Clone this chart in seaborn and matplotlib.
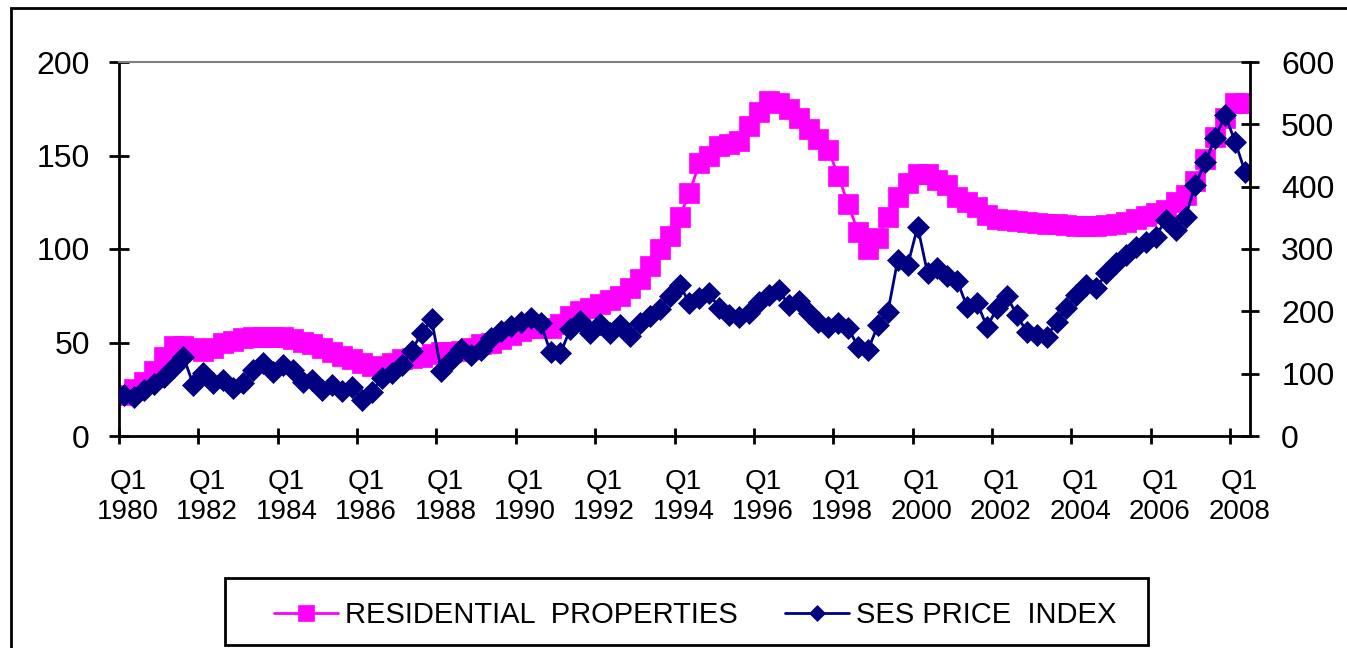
import matplotlib.pyplot as plt
import matplotlib.patches as patches
import seaborn as sns
import pandas as pd

sns.set_theme(style="white")
plt.rcParams['font.family'] = ['Liberation Sans', 'DejaVu Sans']

# Trimestres desde Q1 1980 hasta Q2 2008
trimestres = [f"Q{q} {a}" for a in range(1980, 2009) for q in range(1, 5)][:114]

# Índice de propiedades residenciales (eje izquierdo)
residencial = [
    22, 25, 29, 35, 42, 48, 48, 47,
    45.5, 47, 49.5, 51, 52.5, 53, 53, 53,
    53, 52, 50.5, 49, 47, 45, 43, 41,
    39, 37.5, 36.5, 39, 41, 41.5, 42, 44,
    45, 45, 45.5, 47, 49, 50, 52, 54,
    56, 57.5, 58, 58, 60, 64, 67, 68.5,
    70.5, 72.5, 75, 79, 84, 91, 100, 107,
    117, 130, 146, 150, 155, 156, 158, 166,
    173, 179, 178, 175, 170, 164, 159, 153,
    139, 124, 109, 100, 106, 117, 128, 135.5,
    140, 140, 137, 134, 128, 125, 122.5, 118,
    116, 115.5, 115, 114.5, 114, 113.5, 113.5, 113,
    112.5, 112.5, 112.5, 113, 113.5, 114.5, 116, 117.5,
    119.5, 121, 125, 129, 136.5, 148, 160, 170,
    178, 178,
]

# Índice de precios SES (eje derecho)
ses = [
    66, 63, 74, 84, 95, 111, 127, 82,
    101, 85, 90, 77, 85, 106, 117, 103,
    114, 106, 87, 90, 74, 82, 72, 79,
    58, 71, 93, 101, 114, 137, 165, 187,
    104, 122, 139, 130, 138, 157, 169, 177,
    183, 189, 181, 134, 133, 172, 185, 165,
    180, 165, 178, 161, 181, 193, 204, 225,
    243, 213, 221, 229, 205, 194, 191, 197,
    215, 226, 234, 210, 217, 197, 183, 175,
    181, 173, 143, 138, 178, 199, 283, 274,
    336, 261, 269, 256, 248, 207, 213, 175,
    205, 224, 194, 167, 162, 159, 183, 205,
    226, 242, 237, 261, 277, 290, 304, 312,
    320, 347, 331, 352, 403, 440, 478, 515,
    472, 424,
]

df = pd.DataFrame({"pos": range(len(trimestres)), "trimestre": trimestres,
                   "residencial": residencial, "ses": ses})

# Etiquetas cada dos años (Q1 de años pares)
etiquetas = [(i, t.replace(" ", "\n")) for i, t in enumerate(trimestres)
             if t.startswith("Q1") and int(t[-4:]) % 2 == 0]

fig = plt.figure(figsize=(13.47, 6.48), dpi=100)
ax = fig.add_axes([119 / 1347, 1 - 436 / 648, 1131 / 1347, 374 / 648])

sns.lineplot(data=df, x="pos", y="residencial", ax=ax, color="#FF00FF",
             marker="s", markersize=15, markeredgecolor="#FF00FF",
             markeredgewidth=0.5, linewidth=2, label="RESIDENTIAL  PROPERTIES")
ax2 = ax.twinx()
sns.lineplot(data=df, x="pos", y="ses", ax=ax2, color="#000080",
             marker="D", markersize=10.8, markeredgecolor="#000080",
             markeredgewidth=0.5, linewidth=2, label="SES PRICE  INDEX")

ax.set_xlim(-0.5, len(trimestres) - 0.5)
ax.set_ylim(0, 200)
ax2.set_ylim(0, 600)
ax.set_yticks(range(0, 201, 50))
ax2.set_yticks(range(0, 601, 100))
ax.set_xlabel("")
ax.set_ylabel("")
ax2.set_ylabel("")

ax.set_xticks([p - 0.5 for p, _ in etiquetas])
ax.set_xticklabels([])
ax.set_xticks([p + 0.4 for p, _ in etiquetas], minor=True)
ax.set_xticklabels([e for _, e in etiquetas], minor=True, fontsize=20, linespacing=1.2)
ax.tick_params(axis="x", which="major", bottom=True, direction="inout", length=11, width=2, color="black")
ax.tick_params(axis="x", which="minor", bottom=True, length=0, pad=24, labelcolor="black")
ax.tick_params(axis="y", left=True, direction="inout", length=14, width=2, pad=14,
               labelsize=23, color="black", labelcolor="black")
ax2.tick_params(axis="y", right=True, direction="inout", length=13, width=2, pad=16,
                labelsize=23, color="black", labelcolor="black")

for lado in ["left", "bottom"]:
    ax.spines[lado].set_color("black")
    ax.spines[lado].set_linewidth(2)
ax.spines["top"].set_color("#808080")
ax.spines["top"].set_linewidth(1.5)
ax.spines["right"].set_visible(False)
for lado in ["left", "bottom", "top"]:
    ax2.spines[lado].set_visible(False)
ax2.spines["right"].set_color("black")
ax2.spines["right"].set_linewidth(2)
ax.grid(False)
ax2.grid(False)

# Leyenda común debajo del gráfico
h1, l1 = ax.get_legend_handles_labels()
h2, l2 = ax2.get_legend_handles_labels()
ax.get_legend().remove()
ax2.get_legend().remove()
fig.legend(h1 + h2, l1 + l2, loc="center", bbox_to_anchor=(0.516, 0.051), ncol=2,
           frameon=False, fontsize=21, handlelength=2.2, handletextpad=0.25,
           columnspacing=1.6, markerscale=0.75, labelcolor="black")
fig.add_artist(patches.Rectangle((225 / 1347, 1 - 645 / 648), 923 / 1347, 67 / 648,
                                 transform=fig.transFigure, fill=False, lw=2, ec="black"))

# Marco exterior de la figura
fig.add_artist(patches.Rectangle((11 / 1347, -0.1), 1.2, 1 - 8 / 648 + 0.1,
                                 transform=fig.transFigure, fill=False, lw=2, ec="black"))

fig.savefig("out.png", dpi=100)
